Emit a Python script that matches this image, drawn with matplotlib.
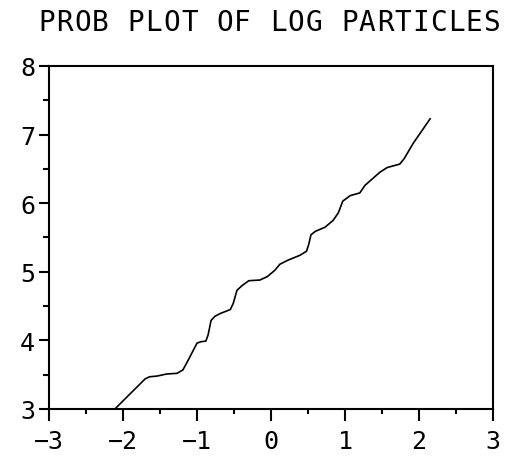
import matplotlib
matplotlib.use("Agg")
import matplotlib.pyplot as plt
from matplotlib.ticker import MultipleLocator

# normal quantiles (x) vs sorted log particle counts (y), joined as a line
quantiles = [-2.11, -1.70, -1.64, -1.54, -1.41, -1.27, -1.19, -1.12, -1.00, -0.95,
             -0.88, -0.85, -0.81, -0.76, -0.69, -0.55, -0.51, -0.46, -0.39, -0.30,
             -0.15, -0.05, 0.05, 0.12, 0.23, 0.39, 0.48, 0.51, 0.54, 0.60,
             0.73, 0.84, 0.91, 0.97, 1.07, 1.20, 1.27, 1.47, 1.57, 1.74,
             1.80, 1.92, 2.15]
log_particles = [3.00, 3.44, 3.47, 3.48, 3.51, 3.52, 3.57, 3.71, 3.96, 3.98,
                 3.99, 4.08, 4.29, 4.35, 4.39, 4.45, 4.54, 4.73, 4.80, 4.87,
                 4.88, 4.93, 5.02, 5.11, 5.17, 5.24, 5.30, 5.40, 5.54, 5.59,
                 5.65, 5.75, 5.86, 6.03, 6.11, 6.15, 6.26, 6.45, 6.52, 6.57,
                 6.65, 6.87, 7.23]

TITLE = "PROB PLOT OF LOG PARTICLES"
FONT = "DejaVu Sans Mono"

W, H = 515, 460
fig = plt.figure(figsize=(W / 100, H / 100), dpi=100)
ax = fig.add_axes([49 / W, 1 - 410 / H, 444 / W, 343 / H])

ax.plot(quantiles, log_particles, color="black", lw=1.2, solid_joinstyle="round")

ax.set_xlim(-3, 3)
ax.set_ylim(3, 8)
ax.xaxis.set_major_locator(MultipleLocator(1))
ax.xaxis.set_minor_locator(MultipleLocator(0.5))
ax.yaxis.set_major_locator(MultipleLocator(1))
ax.yaxis.set_minor_locator(MultipleLocator(0.5))

for s in ax.spines.values():
    s.set_linewidth(1.5)
    s.set_color("black")

ax.tick_params(axis="x", which="major", direction="out", length=8.6, width=1.5, pad=6)
ax.tick_params(axis="x", which="minor", direction="out", length=3.5, width=1.5)
ax.tick_params(axis="y", which="major", direction="out", length=7, width=1.5, pad=3)
ax.tick_params(axis="y", which="minor", direction="out", length=4, width=1.5)

for lbl in ax.get_xticklabels() + ax.get_yticklabels():
    lbl.set_fontfamily(FONT)
    lbl.set_fontsize(18)

# wide fixed-pitch title, one glyph per cell
adv = 17.8
x0 = 38 + adv / 2
for i, ch in enumerate(TITLE):
    if ch != " ":
        fig.text((x0 + i * adv) / W, 1 - 23 / H, ch, ha="center", va="center",
                 fontsize=20, family=FONT)

fig.savefig("out.png", dpi=100, facecolor="white")
